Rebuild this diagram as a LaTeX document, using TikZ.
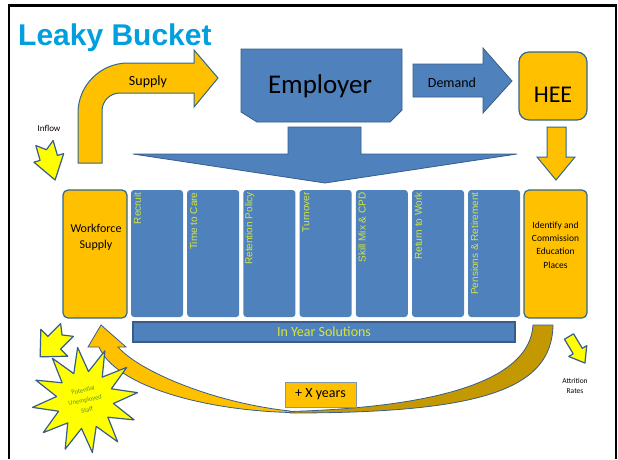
\documentclass[tikz,border=0pt]{standalone}
\usepackage{fontspec}
\setmainfont{Carlito}
\newfontfamily\arialfont{Liberation Sans}
\usepackage{tikz}
\usetikzlibrary{shapes.geometric}
\definecolor{bktblue}{RGB}{79,129,189}
\definecolor{bktline}{RGB}{56,93,138}
\definecolor{bktorange}{RGB}{255,192,0}
\definecolor{bktoline}{RGB}{45,105,145}
\definecolor{bktgold}{RGB}{196,152,0}
\definecolor{bktyellow}{RGB}{255,255,0}
\definecolor{bktlbl}{RGB}{214,230,60}
\definecolor{bkttitle}{RGB}{0,160,222}
\definecolor{bktgreen}{RGB}{90,150,40}
\definecolor{bktgrey}{RGB}{130,150,170}
\newcommand{\bktfs}[2]{\fontsize{#1}{#2}\selectfont}
\tikzset{
	bshape/.style={fill=bktblue, draw=bktline, line width=0.8pt},
	oshape/.style={fill=bktorange, draw=bktoline, line width=1pt},
	ybolt/.style={fill=bktyellow, draw=bktline, line width=1.2pt, line join=round},
	colbox/.style={fill=bktblue, rounded corners=3pt, minimum width=52pt, minimum height=127pt, inner sep=0pt},
	collbl/.style={text=bktlbl, font=\arialfont\bktfs{10}{12}, rotate=90, anchor=east, inner sep=0pt},
	obox/.style={oshape, line width=1.2pt, rounded corners=5pt, minimum width=64pt, minimum height=128pt, inner sep=0pt},
	pics/notcharrow/.style n args={5}{code={
		\draw[ybolt] (0,-#2) -- ({#1-#4},-#2) -- ({#1-#4},-#3) -- (#1,0) -- ({#1-#4},#3) -- ({#1-#4},#2) -- (0,#2) -- (#5,0) -- cycle;
	}}
}

\begin{document}
\begin{tikzpicture}[x=1pt, y=-1pt]
	\useasboundingbox (0,0) rectangle (618,459);
	\fill[white] (0,0) rectangle (618,459);
	\draw[line width=2.6pt] (9,459) -- (9,5.5) -- (616,5.5) -- (616,459);
	\node[anchor=base west, inner sep=0pt, text=bkttitle, font=\arialfont\bfseries\bktfs{30}{36}] (title) at (18,45) {Leaky Bucket};

	\draw[oshape] (78,163) -- (78,113) .. controls (78,85.4) and (100.4,63) .. (128,63) -- (194,63) -- (194,50) -- (218,78) -- (194,107) -- (194,93) -- (120,93) .. controls (110,93) and (102,101) .. (102,111) -- (102,163) -- cycle;
	\node[anchor=base, inner sep=0pt, font=\bktfs{14}{16}] (supply) at (148,85) {Supply};

	\draw[bshape] (241,49) -- (402,49) -- (402,110) -- (390,122) -- (257,122) -- (241,112) -- cycle;
	\node[anchor=base, inner sep=0pt, font=\bktfs{27}{30}] (employer) at (320,93) {Employer};

	\draw[bshape] (413,64) -- (483,64) -- (483,48) -- (512,81) -- (483,113) -- (483,97) -- (413,97) -- cycle;
	\node[anchor=base, inner sep=0pt, font=\bktfs{14}{16}] (demand) at (452,87) {Demand};

	\node[obox, rounded corners=10pt, minimum width=68pt, minimum height=68pt] (hee) at (553,86) {};
	\node[anchor=base, inner sep=0pt, font=\bktfs{24}{28}] (heetxt) at (553,102) {HEE};
	\draw[oshape] (547,127) -- (566,127) -- (566,157) -- (575,157) -- (556,180) -- (537,157) -- (547,157) -- cycle;

	\draw[bshape] (288,127) -- (361,127) -- (361,154) -- (517,154) -- (325,183) -- (133,154) -- (288,154) -- cycle;

	\node[anchor=base, inner sep=0pt, font=\bktfs{9}{11}] (inflow) at (49,131) {Inflow};
	\pic[rotate=-74] at (44.5,143) {notcharrow={38.5}{9}{15.5}{23}{7}};

	\node[obox] (wfbox) at (95,254) {};
	\node[align=center, inner sep=0pt, font=\bktfs{12}{16}] (wftext) at (96,237.5) {Workforce\\Supply};
	\foreach \lbl [count=\i] in {Recruit, Time to Care, Retention Policy, Turnover, Skill Mix \& CPD, Return to Work, Pensions \& Retirement}{
		\node[colbox] (col\i) at ({100.8+\i*56.2},253.5) {};
		\node[collbl] (lbl\i) at ([xshift=6.5pt,yshift=-2.5pt]col\i.north west) {\lbl};
	}
	\node[obox, minimum width=63pt] (icbox) at (555.5,254) {};
	\node[align=center, inner sep=0pt, font=\bktfs{9.5}{13.3}] (ictext) at (555.5,245) {Identify and\\Commission\\Education\\Places};

	\node[bshape, line width=1.2pt, minimum width=382pt, minimum height=20pt, inner sep=0pt, text=bktlbl, font=\bktfs{14}{16}] (inyear) at (324,332) {In Year Solutions};

	\draw[fill=bktgold, draw=bktline, line width=0.8pt] (533,325) -- (553,325) .. controls (552,390) and (480,413) .. (290,413) -- (290,411.5) .. controls (440,407) and (530,380) .. (533,325) -- cycle;
	\draw[fill=bktorange, draw=bktline, line width=0.8pt] (101,325) -- (126,347) -- (118,347) .. controls (140,372) and (215,403) .. (290,411) -- (290,412.5) .. controls (200,410) and (115,385) .. (99,347) -- (88,347) -- cycle;
	\node[fill=bktorange, draw=bktgrey, line width=0.6pt, minimum width=71pt, minimum height=25pt, inner sep=0pt, font=\bktfs{14}{16}] (xyears) at (320.5,394.5) {+ X years};

	\pic[rotate=225] at (67,330) {notcharrow={38}{9}{19}{20}{7}};
	\node[star, star points=12, star point ratio=1.85, minimum size=106pt, inner sep=0pt, ybolt, shape border rotate=8] (burst) at (85,400) {};
	\node[align=center, inner sep=0pt, rotate=12, text=bktgreen, font=\bktfs{6.5}{10}] (bursttxt) at (85,400) {Potential\\Unemployed\\Staff};

	\pic[rotate=-59] at (569,336.5) {notcharrow={31}{5.3}{10.5}{14}{0}};
	\node[align=center, inner sep=0pt, font=\bktfs{7.5}{10}] (attr) at (575,385.5) {Attrition\\Rates};
\end{tikzpicture}
\end{document}
